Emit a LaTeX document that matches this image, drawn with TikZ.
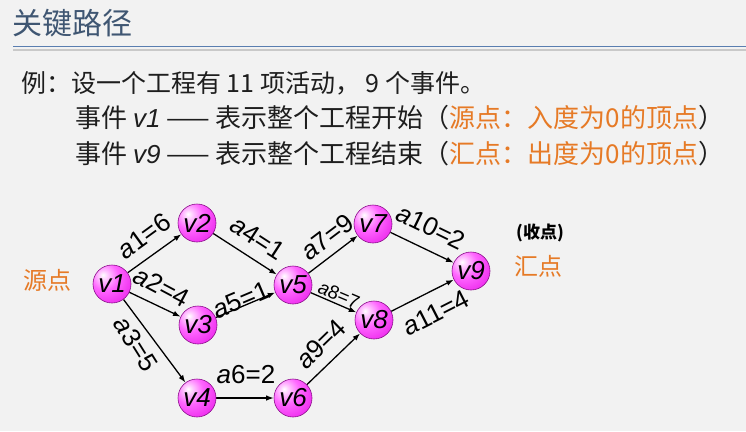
\documentclass[tikz,border=0pt]{standalone}
\usepackage{fontspec}
\setmainfont{Noto Sans CJK SC}
\newfontfamily\latf{Liberation Sans}
\usetikzlibrary{arrows.meta}
\definecolor{bgc}{HTML}{F2F2F2}
\definecolor{titlec}{HTML}{3F5672}
\definecolor{rulec}{HTML}{5A7EB0}
\definecolor{shadec}{HTML}{C9C9C9}
\definecolor{txtc}{HTML}{1E1E1E}
\definecolor{orc}{HTML}{E67A26}
\definecolor{rimc}{HTML}{8A108A}
\definecolor{b1}{HTML}{FFC8FF}
\definecolor{b2}{HTML}{FF66FF}
\definecolor{b3}{HTML}{EE2EEE}
\definecolor{b4}{HTML}{B010B0}
\pgfdeclareradialshading{evball}{\pgfpoint{-12bp}{12bp}}{%
  color(0bp)=(white); color(6bp)=(b1); color(18bp)=(b2); color(36bp)=(b3); color(58bp)=(b4); color(100bp)=(b4)}
\pgfdeclarelayer{bglayer}
\pgfdeclarelayer{edgelayer}
\pgfsetlayers{bglayer,edgelayer,main}
\tikzset{
  ev/.style={circle, minimum size=38pt, inner sep=0pt, shading=evball, draw=rimc, line width=0.6pt,
    font=\latf\itshape\fontsize{26pt}{26pt}\selectfont, text=black},
  elabel/.style={inner sep=0pt, font=\latf\fontsize{26pt}{26pt}\selectfont, text=black},
  conn/.style={draw=black, line width=1.3pt, -{Latex[length=7.5pt,width=5.5pt]}},
  line/.style={anchor=west, inner sep=0pt, font=\fontsize{25pt}{25pt}\selectfont, text=txtc},
}
\newcommand{\av}{{\itshape a}}
\begin{document}
\begin{tikzpicture}[x=1pt,y=-1pt]
\begin{pgfonlayer}{bglayer}
\fill[bgc] (0,0) rectangle (746,431);
\end{pgfonlayer}
\useasboundingbox (0,0) rectangle (746,431);
% title
\node[anchor=west, inner sep=0pt, font=\fontsize{30pt}{30pt}\selectfont, text=titlec] (title) at (12,23) {关键路径};
\coordinate (r1a) at (13,46.5); \coordinate (r1b) at (746,46.5);
\coordinate (r2a) at (13,49.5); \coordinate (r2b) at (746,49.5);
\draw[shadec, line width=2pt] (r2a) -- (r2b);
\draw[rulec, line width=1.8pt] (r1a) -- (r1b);
% text lines
\node[line] (t1) at (21,83) {例：设一个工程有 11 项活动， 9 个事件。};
\node[line, font=\fontsize{26pt}{26pt}\selectfont] (t2) at (75,118) {事件 {\latf\itshape v1} —— 表示整个工程开始（\textcolor{orc}{源点：入度为0的顶点}）};
\node[line, font=\fontsize{26pt}{26pt}\selectfont] (t3) at (75,154) {事件 {\latf\itshape v9} —— 表示整个工程结束（\textcolor{orc}{汇点：出度为0的顶点}）};
% side labels
\node[inner sep=0pt, font=\fontsize{24pt}{24pt}\selectfont, text=orc] (src) at (47,280) {源点};
\node[inner sep=0pt, font=\fontsize{24pt}{24pt}\selectfont, text=orc] (snk) at (538,266) {汇点};
\node[inner sep=0pt, font=\bfseries\fontsize{17pt}{17pt}\selectfont, text=black] (shou) at (540,233) {(收点)};
% events
\node[ev] (v1) at (112,284) {v1};
\node[ev] (v2) at (197,223) {v2};
\node[ev] (v3) at (198,325) {v3};
\node[ev] (v4) at (197,398) {v4};
\node[ev] (v5) at (293,285) {v5};
\node[ev] (v6) at (293,398) {v6};
\node[ev] (v7) at (373,224) {v7};
\node[ev] (v8) at (374,320) {v8};
\node[ev] (v9) at (471,271) {v9};
% edges and labels
\begin{pgfonlayer}{edgelayer}
\draw[conn] (v1) -- (v2);
\draw[conn] (v1) -- (v3);
\draw[conn] (v1) -- (v4);
\draw[conn] (v2) -- (v5);
\draw[conn] (v3) -- (v5);
\draw[conn] (v4) -- (v6);
\draw[conn] (v5) -- (v7);
\draw[conn] (v5) -- (v8);
\draw[conn] (v6) -- (v8);
\draw[conn] (v7) -- (v9);
\draw[conn] (v8) -- (v9);
\node[elabel, rotate=36] (l1) at (144,236) {\av1=6};
\node[elabel, rotate=-28] (l2) at (162,287) {\av2=4};
\node[elabel, rotate=-58] (l3) at (136,344) {\av3=5};
\node[elabel, rotate=-33] (l4) at (258,238) {\av4=1};
\node[elabel, rotate=23] (l5) at (241,300) {\av5=1};
\node[elabel, rotate=0] (l6) at (246,375) {\av6=2};
\node[elabel, rotate=37] (l7) at (327,237) {\av7=9};
\node[elabel, rotate=-23, font=\latf\fontsize{19pt}{19pt}\selectfont] (l8) at (339,295) {\av8=7};
\node[elabel, rotate=44] (l9) at (321,344) {\av9=4};
\node[elabel, rotate=-26] (l10) at (431,227) {\av10=2};
\node[elabel, rotate=27] (l11) at (436,313) {\av11=4};
\end{pgfonlayer}
\end{tikzpicture}
\end{document}
